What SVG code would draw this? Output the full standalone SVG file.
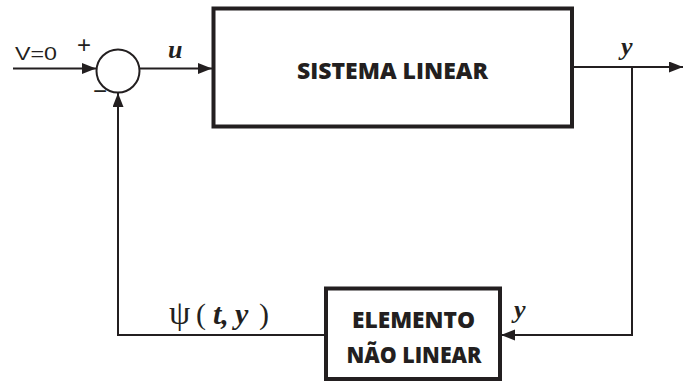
<svg xmlns="http://www.w3.org/2000/svg" width="683" height="385" viewBox="0 0 683 385">
<defs>
<style>
.box{fill:#fff;stroke:#231f20;stroke-width:4}
.ln{fill:none;stroke:#231f20;stroke-width:2}
.lbl{font-family:"Open Sans","Liberation Sans",sans-serif;font-weight:800;font-size:23px;fill:#231f20;text-anchor:middle}
.var{font-family:"Liberation Serif",serif;font-style:italic;font-weight:bold;font-size:26px;fill:#231f20}
.sgn{font-family:"Liberation Sans",sans-serif;font-size:24px;fill:#231f20}
</style>
<marker id="ah" markerUnits="userSpaceOnUse" markerWidth="15" markerHeight="12" refX="14" refY="5.5" orient="auto">
<path d="M0,0 L14,5.5 L0,11 z" fill="#231f20"/>
</marker>
</defs>
<g id="connectors">
<path class="ln" d="M13,68.5 H96" marker-end="url(#ah)"/>
<path class="ln" d="M140,68.5 H212" marker-end="url(#ah)"/>
<path class="ln" d="M574,67 H683" marker-end="url(#ah)"/>
<path class="ln" d="M632,67 V335 H501" marker-end="url(#ah)"/>
<path class="ln" d="M325,335 H118 V93" marker-end="url(#ah)"/>
</g>
<g id="sum">
<circle cx="118" cy="71" r="21.5" fill="#fff" stroke="#231f20" stroke-width="2"/>
<text class="sgn" x="84" y="53" text-anchor="middle">+</text>
<text class="sgn" x="100" y="99" text-anchor="middle">−</text>
</g>
<g id="input-label">
<text x="15" y="60" font-family="Liberation Sans, sans-serif" font-size="18" fill="#231f20" textLength="42" lengthAdjust="spacingAndGlyphs">V=0</text>
</g>
<g id="sistema-linear">
<rect class="box" x="213.5" y="8.5" width="358.5" height="118"/>
<text class="lbl" x="392.5" y="78.5" textLength="191" lengthAdjust="spacingAndGlyphs">SISTEMA LINEAR</text>
</g>
<g id="elemento-nao-linear">
<rect class="box" x="326" y="288.5" width="174" height="90.5"/>
<text class="lbl" x="413.5" y="327.5" textLength="123" lengthAdjust="spacingAndGlyphs">ELEMENTO</text>
<text class="lbl" x="414" y="362.5" textLength="135" lengthAdjust="spacingAndGlyphs">NÃO LINEAR</text>
</g>
<g id="labels">
<text class="var" x="168" y="58" font-size="24">u</text>
<text class="var" x="621" y="55">y</text>
<text class="var" x="514" y="318">y</text>
<text font-family="Liberation Serif, serif" font-size="30" fill="#231f20" y="324"><tspan x="169" font-size="34">ψ</tspan><tspan x="196">(</tspan><tspan x="213" font-style="italic" font-weight="bold">t,</tspan><tspan x="235" font-style="italic" font-weight="bold">y</tspan><tspan x="259">)</tspan></text>
</g>
</svg>
